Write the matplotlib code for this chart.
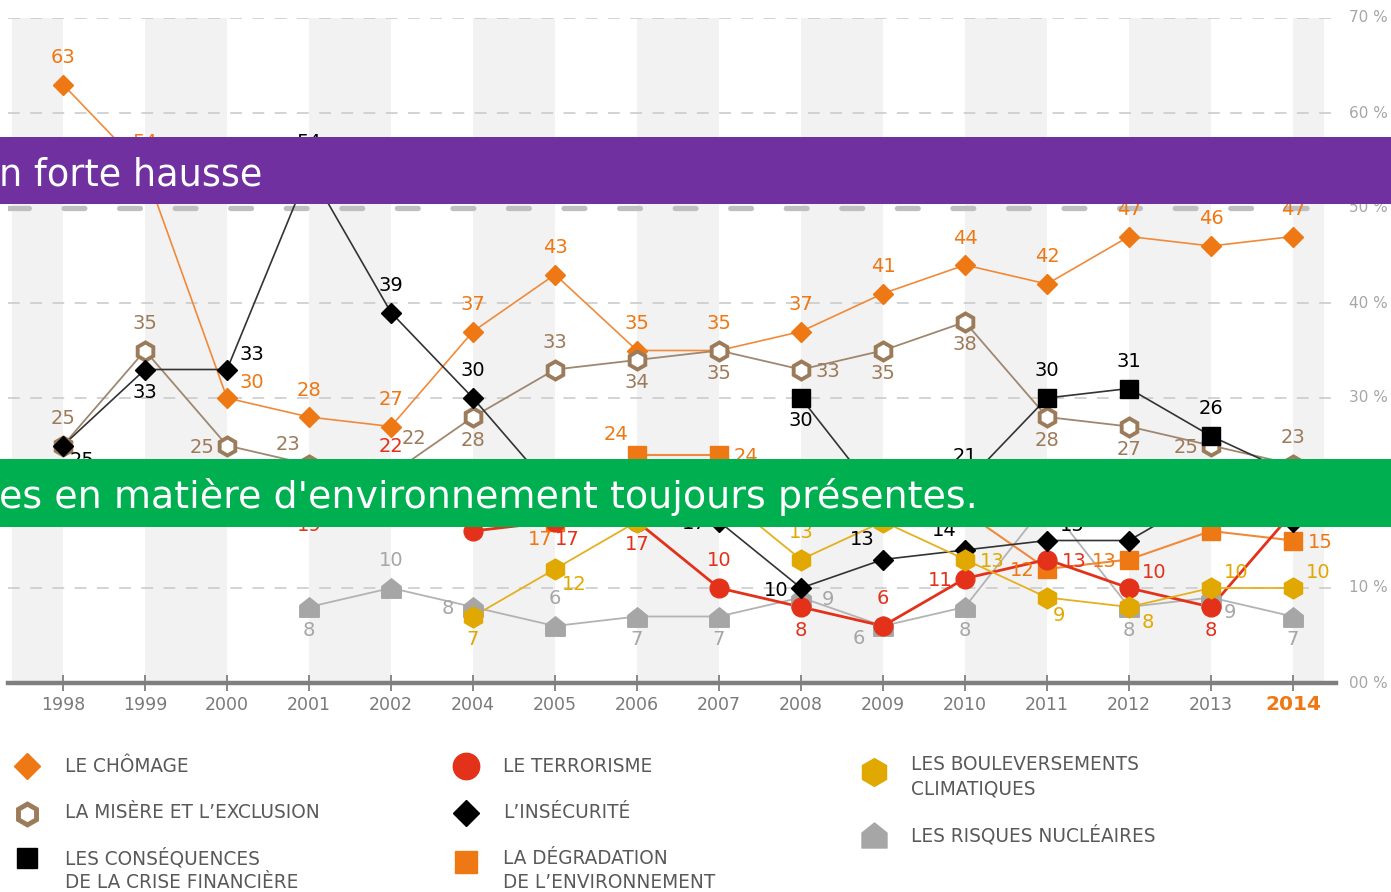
import numpy as np
import matplotlib
matplotlib.use("Agg")
import matplotlib.pyplot as plt
from matplotlib.path import Path
from matplotlib.patches import Rectangle
from matplotlib import font_manager as fm

# ── Data ───────────────────────────────────────────────────────────────────
nan = np.nan
years = ["1998", "1999", "2000", "2001", "2002", "2004", "2005", "2006",
         "2007", "2008", "2009", "2010", "2011", "2012", "2013", "2014"]

chomage     = [63, 54, 30, 28, 27, 37, 43, 35, 35, 37, 41, 44, 42, 47, 46, 47]
misere      = [25, 35, 25, 23, 22, 28, 33, 34, 35, 33, 35, 38, 28, 27, 25, 23]
insecurite  = [25, 33, 33, 54, 39, 30, 20, 21, 17, 10, 13, 14, 15, 15, 20, 17]
crise       = [nan] * 9 + [30, 19, 21, 30, 31, 26, 22]
terrorisme  = [nan] * 3 + [19, 22, 16, 17, 17, 10, 8, 6, 11, 13, 10, 8, 18]
degradation = [nan] * 3 + [20, 19, 20, 17, 24, 24, 20, 19, 18, 12, 13, 16, 15]
climat      = [nan] * 5 + [7, 12, 17, 20, 13, 17, 13, 9, 8, 10, 10]
nucleaire   = [nan] * 3 + [8, 10, 8, 6, 7, 7, 9, 6, 8, 19, 8, 9, 7]

y_ticks = [0, 10, 20, 30, 40, 50, 60, 70]

# ── Label placement codes (offset in pixels from the marker) ───────────────
# "-" : value label sits under the green banner, so it is not drawn
OFFS = {
    "a": (0, 27), "b": (0, -23), "l": (-25, -2), "r": (27, -2),
    "al": (-21, 20), "ar": (25, 15), "bl": (-24, -12), "br": (19, -15),
    "ur": (23, 36), "bl2": (-15, -18), "br2": (12, -18),
}
lab_chomage = ["a", "a", "ar"] + ["a"] * 13
lab_misere = ["a", "a", "l", "al", "ur", "b", "a", "b", "b", "r", "b", "b",
              "b", "b", "l", "a"]
lab_insecurite = ["br", "b", "ar", "a", "a", "a", "-", "-", "l", "l", "al",
                  "al", "ar", "-", "-", "-"]
lab_crise = ["-"] * 9 + ["b", "-", "a", "a", "a", "a", "-"]
lab_terrorisme = ["-"] * 3 + ["b", "a", "-", "br2", "b", "a", "b", "a", "l",
                              "r", "ar", "b", "-"]
lab_degradation = ["-"] * 3 + ["-", "-", "-", "bl2", "al", "r", "-", "-",
                               "-", "l", "l", "-", "r"]
lab_climat = ["-"] * 5 + ["b", "br", "-", "-", "a", "-", "r", "br2", "br",
                          "ar", "ar"]
lab_nucleaire = ["-"] * 3 + ["b", "a", "l", "a", "b", "b", "r", "bl", "b",
                             "-", "b", "br", "b"]

# ── Palette / fonts ────────────────────────────────────────────────────────
ORANGE = "#ee7813"
BROWN = "#9c7b5b"
RED = "#e3311a"
YELLOW = "#e0a800"
GREY = "#a6a6a6"
BLACK = "#000000"
W, H = 1391, 892


def pick_font(cands):
    for c in cands:
        try:
            fm.findfont(c, fallback_to_default=False)
            return c
        except ValueError:
            continue
    return "DejaVu Sans"


NARROW = pick_font(["Liberation Sans Narrow", "DejaVu Sans"])

HOUSE = Path([(-1, -1), (1, -1), (1, 0.2), (0, 1), (-1, 0.2), (-1, -1)],
             [Path.MOVETO, Path.LINETO, Path.LINETO, Path.LINETO,
              Path.LINETO, Path.CLOSEPOLY])

# series: values, labels, line colour, line width, marker kwargs, label colour, zorder
series = [
    (nucleaire, lab_nucleaire, "#b3b3b3", 1.3,
     dict(marker=HOUSE, ms=14, mfc=GREY, mec=GREY), GREY, 4),
    (chomage, lab_chomage, "#f08a3a", 1.2,
     dict(marker="D", ms=10.5, mfc=ORANGE, mec=ORANGE), ORANGE, 5),
    (misere, lab_misere, "#a08770", 1.3,
     dict(marker="h", ms=13, mfc="white", mec=BROWN, mew=2.8), BROWN, 6),
    (degradation, lab_degradation, "#f08a3a", 1.5,
     dict(marker="s", ms=13, mfc=ORANGE, mec=ORANGE), ORANGE, 7),
    (terrorisme, lab_terrorisme, RED, 2.0,
     dict(marker="o", ms=13.5, mfc=RED, mec=RED), RED, 8),
    (insecurite, lab_insecurite, "#333333", 1.2,
     dict(marker="D", ms=10.5, mfc=BLACK, mec=BLACK), BLACK, 9),
    (climat, lab_climat, "#e5b020", 1.3,
     dict(marker="h", ms=15, mfc=YELLOW, mec=YELLOW), YELLOW, 10),
    (crise, lab_crise, "#333333", 1.2,
     dict(marker="s", ms=13, mfc=BLACK, mec=BLACK), BLACK, 11),
]

# ── Figure ─────────────────────────────────────────────────────────────────
plt.rcParams["lines.scale_dashes"] = False
fig = plt.figure(figsize=(W / 100, H / 100), dpi=100, facecolor="white")

X0, X1, Y0, Y1 = 8, 1336, 683, 18          # plot area in pixels
ax = fig.add_axes([X0 / W, 1 - Y0 / H, (X1 - X0) / W, (Y0 - Y1) / H])
ax.set_xlim((X0 - 63) / 82, (X1 - 63) / 82)
ax.set_ylim(0, 70)
ax.axis("off")

x = np.arange(len(years))

# alternating shaded columns
for lo in range(-1, len(years), 2):
    ax.axvspan(max(lo, -0.62), min(lo + 1, 15.38), color="#f2f2f2",
               lw=0, zorder=0)

# grid lines
for v in y_ticks[1:]:
    if v == 50:
        ax.axhline(v, color="#bfbfbf", lw=3.8, dashes=(15, 25),
                   dash_capstyle="round", zorder=1)
    else:
        ax.axhline(v, color="#c8c8c8", lw=1.1, dashes=(8.5, 7.5), zorder=1)
    ax.text(15.68, v, f"{v:02d} %", color="#a6a6a6", fontsize=11,
            va="center", ha="left")
ax.text(15.68, 0, "00 %", color="#a6a6a6", fontsize=11, va="center",
        ha="left")

# x axis
ax.axhline(0, color="#7f7f7f", lw=3.2, zorder=2, clip_on=False)
ax.vlines(x, -0.8, 0.8, color="#7f7f7f", lw=1.3, zorder=2, clip_on=False)
for i, yr in enumerate(years):
    if yr == "2014":
        ax.text(i, -2.3, yr, color=ORANGE, fontsize=14.5, fontweight="bold",
                ha="center", va="center")
    else:
        ax.text(i, -2.3, yr, color="#7a7a7a", fontsize=12.5, ha="center",
                va="center")

# series
for vals, labs, lcol, lw, mk, tcol, z in series:
    vals = np.asarray(vals, dtype=float)
    ax.plot(x, vals, color=lcol, lw=lw, zorder=3)
    ax.plot(x, vals, ls="none", zorder=z, **mk)
    for i, v in enumerate(vals):
        if np.isnan(v) or labs[i] == "-":
            continue
        dx, dy = OFFS[labs[i]]
        ax.annotate(f"{v:.0f}", (i, v), xytext=(dx, dy),
                    textcoords="offset pixels", ha="center", va="center",
                    fontsize=14, color=tcol, zorder=12, annotation_clip=False)

# ── Overlay: banners + legend ──────────────────────────────────────────────
ov = fig.add_axes([0, 0, 1, 1], zorder=10)
ov.set_xlim(0, W)
ov.set_ylim(H, 0)
ov.axis("off")
ov.patch.set_visible(False)

ov.add_patch(Rectangle((0, 137), W, 67, color="#7030a0", lw=0))
ov.add_patch(Rectangle((0, 459), W, 68, color="#00b050", lw=0))
t1 = ov.text(-1, 186, "n forte hausse", color="white", fontsize=30,
             family=NARROW, va="baseline", ha="left")
t2 = ov.text(-1, 508, "es en matière d'environnement toujours présentes.",
             color="white", fontsize=30, family=NARROW, va="baseline",
             ha="left")

leg_items = [
    (27, 766, dict(marker="D", ms=13, mfc=ORANGE, mec=ORANGE)),
    (27, 814, dict(marker="h", ms=15, mfc="white", mec=BROWN, mew=3.5)),
    (27, 858, dict(marker="s", ms=15, mfc=BLACK, mec=BLACK)),
    (466, 766, dict(marker="o", ms=19, mfc=RED, mec=RED)),
    (466, 813, dict(marker="D", ms=13, mfc=BLACK, mec=BLACK)),
    (466, 862, dict(marker="s", ms=16, mfc=ORANGE, mec=ORANGE)),
    (874, 772, dict(marker="h", ms=20, mfc=YELLOW, mec=YELLOW)),
    (874, 835, dict(marker=HOUSE, ms=18, mfc=GREY, mec=GREY)),
]
for lx, ly, mk in leg_items:
    ov.plot([lx], [ly], ls="none", **mk)

leg_texts = [
    (65, 766, "LE CHÔMAGE"),
    (65, 812, "LA MISÈRE ET L’EXCLUSION"),
    (65, 858, "LES CONSÉQUENCES"),
    (65, 882, "DE LA CRISE FINANCIÈRE"),
    (503, 766, "LE TERRORISME"),
    (503, 812, "L’INSÉCURITÉ"),
    (503, 858, "LA DÉGRADATION"),
    (503, 882, "DE L’ENVIRONNEMENT"),
    (911, 765, "LES BOULEVERSEMENTS"),
    (911, 789, "CLIMATIQUES"),
    (911, 835, "LES RISQUES NUCLÉAIRES"),
]
leg_artists = [ov.text(lx, ly, s, color="#595959", fontsize=13,
                       family=NARROW, va="center", ha="left")
               for lx, ly, s in leg_texts]

# fit font sizes to the measured widths of the reference
fig.canvas.draw()
r = fig.canvas.get_renderer()
for t, target in ((t1, 263), (t2, 978)):
    t.set_fontsize(30 * target / t.get_window_extent(r).width)
k = 123 / leg_artists[0].get_window_extent(r).width
for t in leg_artists:
    t.set_fontsize(13 * k)

fig.savefig("out.png", dpi=100, facecolor="white")
